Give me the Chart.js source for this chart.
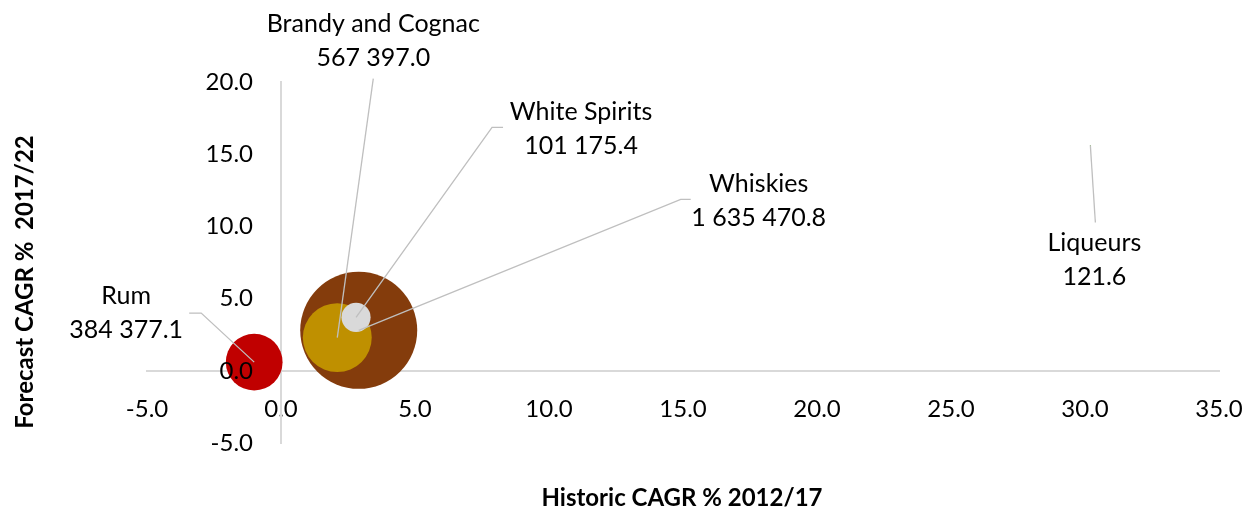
<!DOCTYPE html>
<html>
<head>
<meta charset="utf-8">
<script src="https://cdn.jsdelivr.net/npm/chart.js@4"></script>
<style>
  html, body { margin: 0; padding: 0; background: #fff; }
  #chart { display: block; }
</style>
</head>
<body>
<canvas id="chart" width="1250" height="510"></canvas>
<script>
// Chart data
const categories = ['Rum', 'Whiskies', 'Brandy and Cognac', 'White Spirits', 'Liqueurs'];
const historicCagr = [-1.0, 2.9, 2.1, 2.8, 30.2];   // x
const forecastCagr = [0.6, 2.8, 2.3, 3.7, 15.6];    // y
const marketSize = [384377.1, 1635470.8, 567397.0, 101175.4, 121.6]; // bubble size
const xTicks = [-5, 0, 5, 10, 15, 20, 25, 30, 35];
const yTicks = [-5, 0, 5, 10, 15, 20];

const bubbleColors = ['#C00000', '#843C0C', '#BF9000', '#D9D9D9', '#70AD47'];
const FONT = 'Lato, "Open Sans", sans-serif';
const MAX_RADIUS = 58.5;

// label placement relative to each bubble (pixels): text centre offset + leader path
const labelLayout = {
    'Rum':               { dx: -128, dy: -49,  leader: [[63, 0], [75, 0]] },
    'Whiskies':          { dx: 400,  dy: -129, leader: [[-68, -2], [-78, -2]] },
    'Brandy and Cognac': { dx: 36,   dy: -297, leader: [[0, 38]] },
    'White Spirits':     { dx: 225,  dy: -188, leader: [[-78, -2], [-89, -2]] },
    'Liqueurs':          { dx: 4,    dy: 114,  leader: [[1, -37]] }
};

function formatSize(v) {
    const parts = v.toFixed(1).split('.');
    return parts[0].replace(/\B(?=(\d{3})+(?!\d))/g, ' ') + '.' + parts[1];
}

const maxSize = Math.max(...marketSize);
const points = categories.map((c, i) => ({
    x: historicCagr[i],
    y: forecastCagr[i],
    r: MAX_RADIUS * Math.sqrt(marketSize[i] / maxSize)
}));

// Data labels with leader lines
const bubbleLabels = {
    id: 'bubbleLabels',
    afterDatasetsDraw(chart) {
        const ctx = chart.ctx;
        const meta = chart.getDatasetMeta(0);
        ctx.save();
        ctx.strokeStyle = '#BFBFBF';
        ctx.lineWidth = 1.3;
        meta.data.forEach((el, i) => {
            const lay = labelLayout[categories[i]];
            const cx = el.x + lay.dx, cy = el.y + lay.dy;
            ctx.beginPath();
            lay.leader.forEach((p, k) => {
                if (k === 0) ctx.moveTo(cx + p[0], cy + p[1]);
                else ctx.lineTo(cx + p[0], cy + p[1]);
            });
            ctx.lineTo(el.x, el.y);
            ctx.stroke();
        });
        ctx.fillStyle = '#000';
        ctx.font = '25px ' + FONT;
        ctx.textAlign = 'center';
        ctx.textBaseline = 'middle';
        meta.data.forEach((el, i) => {
            const lay = labelLayout[categories[i]];
            const cx = el.x + lay.dx, cy = el.y + lay.dy;
            ctx.fillText(categories[i], cx, cy - 17);
            ctx.fillText(formatSize(marketSize[i]), cx, cy + 17);
        });
        ctx.restore();
    }
};

// Y tick labels sit left of the zero-crossing axis with a gap
const yTickLabels = {
    id: 'yTickLabels',
    afterDraw(chart) {
        const ctx = chart.ctx;
        const xs = chart.scales.x, ys = chart.scales.y;
        const x0 = xs.getPixelForValue(0);
        ctx.save();
        ctx.fillStyle = '#000';
        ctx.font = '24px ' + FONT;
        ctx.textAlign = 'right';
        ctx.textBaseline = 'middle';
        ys.ticks.forEach(t => {
            ctx.fillText(t.value.toFixed(1), x0 - 28, ys.getPixelForValue(t.value));
        });
        ctx.restore();
    }
};

// Axis titles (axes cross at zero, so titles sit at the canvas edges)
const axisTitles = {
    id: 'axisTitles',
    afterDraw(chart) {
        const ctx = chart.ctx;
        ctx.save();
        ctx.fillStyle = '#000';
        ctx.font = 'bold 24px ' + FONT;
        ctx.textAlign = 'center';
        ctx.textBaseline = 'middle';
        ctx.fillText('Historic CAGR % 2012/17', 682, 498);
        ctx.translate(25, 282);
        ctx.rotate(-Math.PI / 2);
        ctx.fillText('Forecast CAGR %  2017/22', 0, 0);
        ctx.restore();
    }
};

const tickFont = { family: FONT, size: 24 };

new Chart(document.getElementById('chart'), {
    type: 'bubble',
    data: {
        datasets: [{
            label: 'Spirits',
            data: points,
            backgroundColor: bubbleColors,
            borderWidth: 0,
            hoverBorderWidth: 0
        }]
    },
    options: {
        responsive: false,
        animation: false,
        layout: { autoPadding: false, padding: { left: 147, right: 31, top: 82, bottom: 67 } },
        plugins: {
            legend: { display: false },
            tooltip: { enabled: false }
        },
        scales: {
            x: {
                type: 'linear',
                position: { y: 0 },
                min: xTicks[0],
                max: xTicks[xTicks.length - 1],
                afterBuildTicks: (axis) => { axis.ticks = xTicks.map(v => ({ value: v })); },
                afterFit: (axis) => { axis.paddingLeft = 0; axis.paddingRight = 0; },
                ticks: {
                    font: tickFont,
                    color: '#000',
                    padding: 24,
                    maxRotation: 0,
                    callback: (v) => Number(v).toFixed(1)
                },
                grid: { drawOnChartArea: false, drawTicks: false },
                border: { display: true, color: '#D9D9D9', width: 2 }
            },
            y: {
                type: 'linear',
                position: { x: 0 },
                min: yTicks[0],
                max: yTicks[yTicks.length - 1],
                afterBuildTicks: (axis) => { axis.ticks = yTicks.map(v => ({ value: v })); },
                afterFit: (axis) => { axis.paddingTop = 0; axis.paddingBottom = 0; },
                ticks: { display: false },
                grid: { drawOnChartArea: false, drawTicks: false },
                border: { display: true, color: '#D9D9D9', width: 2 }
            }
        }
    },
    plugins: [bubbleLabels, yTickLabels, axisTitles]
});
</script>
</body>
</html>
